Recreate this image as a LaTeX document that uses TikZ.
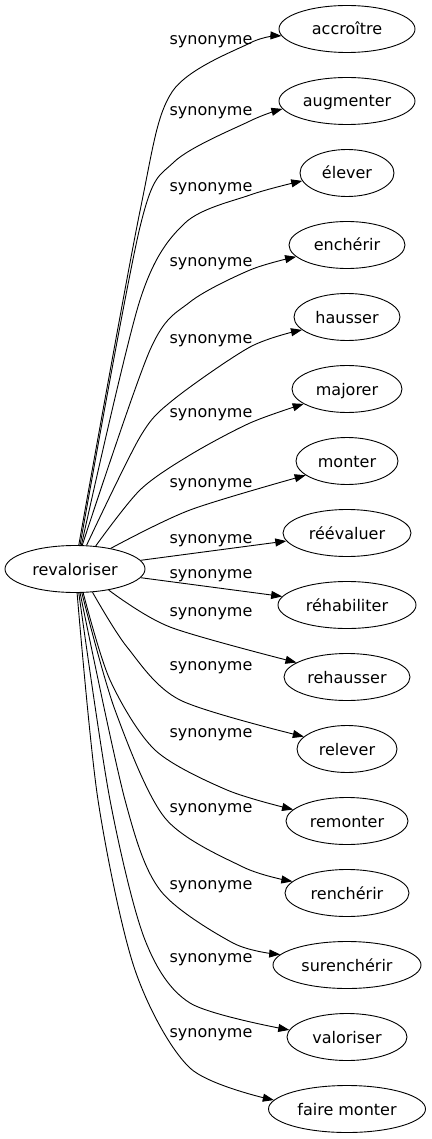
\documentclass[tikz,border=0pt]{standalone}
\usepackage{fontspec}
\setmainfont{DejaVu Sans}
\usetikzlibrary{shapes.geometric,arrows.meta}
\begin{document}
\begin{tikzpicture}[x=1pt,y=-1pt,
  word/.style={ellipse,draw,line width=0.9pt,inner sep=0pt,minimum height=47pt,
    text height=15pt,text depth=3pt,font=\fontsize{16}{19}\selectfont},
  lab/.style={anchor=base,inner sep=0pt,font=\fontsize{16}{19}\selectfont},
  link/.style={draw,line width=0.9pt,-{Triangle[length=11pt,width=8pt]}}]
\useasboundingbox (0,0) rectangle (431,1139);
\node[word,minimum width=140pt] (rev) at (75,569) {revaloriser};
\node[word,minimum width=136pt] (n1) at (347,29) {accroître};
\node[word,minimum width=136pt] (n2) at (347,101) {augmenter};
\node[word,minimum width=94pt] (n3) at (347,173) {élever};
\node[word,minimum width=116pt] (n4) at (347,245) {enchérir};
\node[word,minimum width=106pt] (n5) at (347,317) {hausser};
\node[word,minimum width=110pt] (n6) at (347,389) {majorer};
\node[word,minimum width=102pt] (n7) at (347,461) {monter};
\node[word,minimum width=128pt] (n8) at (347,533) {réévaluer};
\node[word,minimum width=138pt] (n9) at (347,605) {réhabiliter};
\node[word,minimum width=126pt] (n10) at (347,677) {rehausser};
\node[word,minimum width=100pt] (n11) at (347,749) {relever};
\node[word,minimum width=122pt] (n12) at (347,821) {remonter};
\node[word,minimum width=124pt] (n13) at (347,893) {renchérir};
\node[word,minimum width=148pt] (n14) at (347,965) {surenchérir};
\node[word,minimum width=120pt] (n15) at (347,1037) {valoriser};
\node[word,minimum width=157pt] (n16) at (347,1109) {faire monter};
\node[lab] (l1) at (211,45) {synonyme};
\node[lab] (l2) at (211,116) {synonyme};
\node[lab] (l3) at (211,192) {synonyme};
\node[lab] (l4) at (211,267) {synonyme};
\node[lab] (l5) at (211,343.5) {synonyme};
\node[lab] (l6) at (211,417) {synonyme};
\node[lab] (l7) at (211,487) {synonyme};
\node[lab] (l8) at (211,543) {synonyme};
\node[lab] (l9) at (211,578.5) {synonyme};
\node[lab] (l10) at (211,616) {synonyme};
\node[lab] (l11) at (211,670) {synonyme};
\node[lab] (l12) at (211,737.5) {synonyme};
\node[lab] (l13) at (211,812.5) {synonyme};
\node[lab] (l14) at (211,889.5) {synonyme};
\node[lab] (l15) at (211,962.5) {synonyme};
\node[lab] (l16) at (211,1037.5) {synonyme};
\draw[link] plot[smooth] coordinates {(rev.81.5) (140,211) (172,92) (250,43) (n1.186)};
\draw[link] plot[smooth] coordinates {(rev.78) (140,227) (174,162) (250,121) (n2.187)};
\draw[link] plot[smooth] coordinates {(rev.75.6) (140,300) (185,223) (250,195) (n3.190)};
\draw[link] plot[smooth] coordinates {(rev.73.3) (150,350) (190,302) (250,270) (n4.193.5)};
\draw[link] plot[smooth] coordinates {(rev.64.6) (140,437) (173,400) (250,347) (n5.196)};
\draw[link] plot[smooth] coordinates {(rev.48.4) (140,490) (190,455) (250,423) (n6.199.5)};
\draw[link] plot[smooth] coordinates {(rev.30.2) (190,510) (n7.199)};
\draw[link] (rev) -- (n8);
\draw[link] (rev) -- (n9);
\draw[link] plot[smooth] coordinates {(rev.-32.5) (170,627) (n10.164.5)};
\draw[link] plot[smooth] coordinates {(rev.-53.5) (127,647) (180,700) (n11.164.4)};
\draw[link] plot[smooth] coordinates {(rev.-71.1) (110,680) (155,750) (227,790) (n12.168.5)};
\draw[link] plot[smooth] coordinates {(rev.-74.5) (115,710) (165,818) (243,867) (n13.168.7)};
\draw[link] plot[smooth] coordinates {(rev.-78) (125,800) (160,890) (233,943) (n14.171.5)};
\draw[link] plot[smooth] coordinates {(rev.-81.5) (110,800) (145,940) (190,1003) (n15.173)};
\draw[link] plot[smooth] coordinates {(rev.-85.1) (98,800) (135,970) (190,1068) (n16.173)};
\end{tikzpicture}
\end{document}
